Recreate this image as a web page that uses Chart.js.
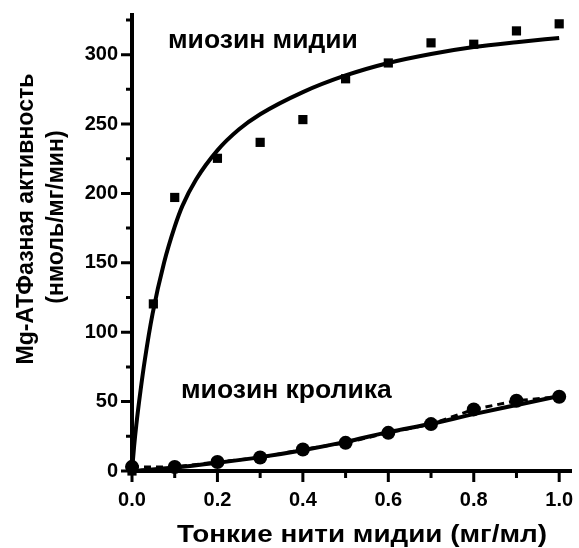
<!DOCTYPE html>
<html>
<head>
<meta charset="utf-8">
<script src="https://cdn.jsdelivr.net/npm/chart.js@4"></script>
<style>
  html, body { margin: 0; padding: 0; background: #fff; }
  #wrap { width: 579px; height: 548px; position: relative; }
</style>
</head>
<body>
<div id="wrap"><canvas id="c" width="579" height="548"></canvas></div>
<script>
// ---- data ----
const xMajorTicks = [0, 0.2, 0.4, 0.6, 0.8, 1.0];
const xMinorTicks = [0.1, 0.3, 0.5, 0.7, 0.9];
const yMajorTicks = [0, 50, 100, 150, 200, 250, 300];
const yMinorTicks = [25, 75, 125, 175, 225, 275, 325];

const musselX = [0, 0.05, 0.1, 0.2, 0.3, 0.4, 0.5, 0.6, 0.7, 0.8, 0.9, 1.0];
const musselY = [0, 120.4, 197.1, 225.3, 236.8, 253.2, 282.6, 294.0, 308.5, 307.5, 317.1, 322.2];

const musselFitX = [0, 0.005, 0.01, 0.02, 0.03, 0.048, 0.075, 0.1, 0.118, 0.15, 0.2, 0.25, 0.3, 0.4, 0.5, 0.6, 0.7, 0.8, 0.9, 1.0];
const musselFitY = [0, 18, 33, 58, 80, 113, 150, 176, 191, 210, 231, 246, 257, 273, 285, 294, 300.5, 305.5, 309, 312];

const rabbitX = [0, 0.1, 0.2, 0.3, 0.4, 0.5, 0.6, 0.7, 0.8, 0.9, 1.0];
const rabbitY = [3, 2.9, 6.5, 9.7, 15.5, 20.3, 27.5, 33.8, 44.4, 50.6, 53.5];

const rabbitFitX = [0, 0.1, 0.2, 0.3, 0.4, 0.5, 0.6, 0.7, 0.8, 0.9, 1.0];
const rabbitFitY = [0, 2.5, 6, 10, 15, 21, 28, 34, 41, 47.5, 54];

const xTitle = 'Тонкие нити мидии (мг/мл)';
const yTitle = ['Mg-АТФазная активность', '(нмоль/мг/мин)'];
const labelMussel = 'миозин мидии';
const labelRabbit = 'миозин кролика';

// ---- helpers ----
const pts = (xs, ys) => xs.map((x, i) => ({ x: x, y: ys[i] }));
const FONT = '"Liberation Sans", Arial, Helvetica, sans-serif';

const axesPlugin = {
  id: 'axesPlugin',
  beforeDatasetsDraw(chart) {
    const ctx = chart.ctx;
    const xs = chart.scales.x, ys = chart.scales.y;
    const x0 = xs.getPixelForValue(0);
    const y0 = ys.getPixelForValue(0);
    ctx.save();
    ctx.strokeStyle = '#000';
    ctx.lineCap = 'butt';
    ctx.lineWidth = 4;
    ctx.beginPath();
    ctx.moveTo(x0, ys.getPixelForValue(ys.max));
    ctx.lineTo(x0, y0 + 2);
    ctx.moveTo(x0 - 2, y0);
    ctx.lineTo(xs.getPixelForValue(xs.max), y0);
    ctx.stroke();
    ctx.lineWidth = 3;
    ctx.beginPath();
    yMajorTicks.forEach(v => { const p = ys.getPixelForValue(v); ctx.moveTo(x0 - 11, p); ctx.lineTo(x0, p); });
    yMinorTicks.forEach(v => { const p = ys.getPixelForValue(v); ctx.moveTo(x0 - 6, p); ctx.lineTo(x0, p); });
    xMajorTicks.forEach(v => { const p = xs.getPixelForValue(v); ctx.moveTo(p, y0); ctx.lineTo(p, y0 + 11); });
    xMinorTicks.forEach(v => { const p = xs.getPixelForValue(v); ctx.moveTo(p, y0); ctx.lineTo(p, y0 + 7); });
    ctx.stroke();
    ctx.restore();
  },
  afterDraw(chart) {
    const ctx = chart.ctx;
    ctx.save();
    ctx.fillStyle = '#000';
    ctx.textBaseline = 'alphabetic';
    // annotations
    ctx.font = 'bold 26.5px ' + FONT;
    ctx.textAlign = 'left';
    ctx.fillText(labelMussel, 168, 48);
    ctx.fillText(labelRabbit, 181, 398);
    // x title (stretched horizontally like the reference)
    ctx.font = 'bold 24px ' + FONT;
    ctx.textAlign = 'center';
    const wx = ctx.measureText(xTitle).width;
    ctx.save();
    ctx.translate(362, 542);
    ctx.scale(370 / wx, 1);
    ctx.fillText(xTitle, 0, 0);
    ctx.restore();
    // y title
    ctx.font = 'bold 23px ' + FONT;
    const wy = ctx.measureText(yTitle[0]).width;
    const sy = 291 / wy;
    ctx.save();
    ctx.translate(0, 219);
    ctx.rotate(-Math.PI / 2);
    ctx.save();
    ctx.translate(0, 33);
    ctx.scale(sy, 1);
    ctx.fillText(yTitle[0], 0, 0);
    ctx.restore();
    ctx.save();
    ctx.translate(2, 63);
    ctx.scale(sy, 1);
    ctx.fillText(yTitle[1], 0, 0);
    ctx.restore();
    ctx.restore();
    ctx.restore();
  }
};

new Chart(document.getElementById('c'), {
  type: 'scatter',
  data: {
    datasets: [
      {
        label: 'fit mussel',
        data: pts(musselFitX, musselFitY),
        showLine: true,
        borderColor: '#000',
        borderWidth: 4,
        pointRadius: 0,
        cubicInterpolationMode: 'monotone',
        clip: false
      },
      {
        label: 'rabbit dashed',
        data: pts(rabbitX, rabbitY),
        showLine: true,
        borderColor: '#000',
        borderWidth: 3,
        borderDash: [7, 5],
        pointRadius: 0,
        clip: false
      },
      {
        label: 'fit rabbit',
        data: pts(rabbitFitX, rabbitFitY),
        showLine: true,
        borderColor: '#000',
        borderWidth: 4,
        pointRadius: 0,
        cubicInterpolationMode: 'monotone',
        clip: false
      },
      {
        label: labelMussel,
        data: pts(musselX, musselY),
        showLine: false,
        pointStyle: 'rect',
        pointRadius: 6.5,
        backgroundColor: '#000',
        borderColor: '#000',
        borderWidth: 0,
        clip: false
      },
      {
        label: labelRabbit,
        data: pts(rabbitX, rabbitY),
        showLine: false,
        pointStyle: 'circle',
        pointRadius: 7,
        backgroundColor: '#000',
        borderColor: '#000',
        borderWidth: 0,
        clip: false
      }
    ]
  },
  options: {
    responsive: false,
    animation: false,
    devicePixelRatio: 1,
    layout: { padding: { left: 0, top: 13, right: 7, bottom: 0 } },
    plugins: { legend: { display: false }, tooltip: { enabled: false } },
    scales: {
      x: {
        type: 'linear',
        min: 0,
        max: 1.03,
        grid: { display: false, drawTicks: false },
        border: { display: false },
        afterBuildTicks: (s) => { s.ticks = xMajorTicks.map(v => ({ value: v })); },
        afterFit: (s) => { s.height = 77; s.paddingLeft = 0; s.paddingRight = 0; },
        ticks: {
          color: '#000',
          padding: 17,
          autoSkip: false,
          maxRotation: 0,
          font: { family: FONT, size: 20, weight: 'bold' },
          callback: (v) => Number(v).toFixed(1)
        }
      },
      y: {
        type: 'linear',
        min: 0,
        max: 330,
        grid: { display: false, drawTicks: false },
        border: { display: false },
        afterBuildTicks: (s) => { s.ticks = yMajorTicks.map(v => ({ value: v })); },
        afterFit: (s) => { s.width = 132; s.paddingTop = 0; s.paddingBottom = 0; },
        ticks: {
          color: '#000',
          padding: 14,
          autoSkip: false,
          font: { family: FONT, size: 20, weight: 'bold' },
          callback: (v) => String(v)
        }
      }
    }
  },
  plugins: [axesPlugin]
});
</script>
</body>
</html>
